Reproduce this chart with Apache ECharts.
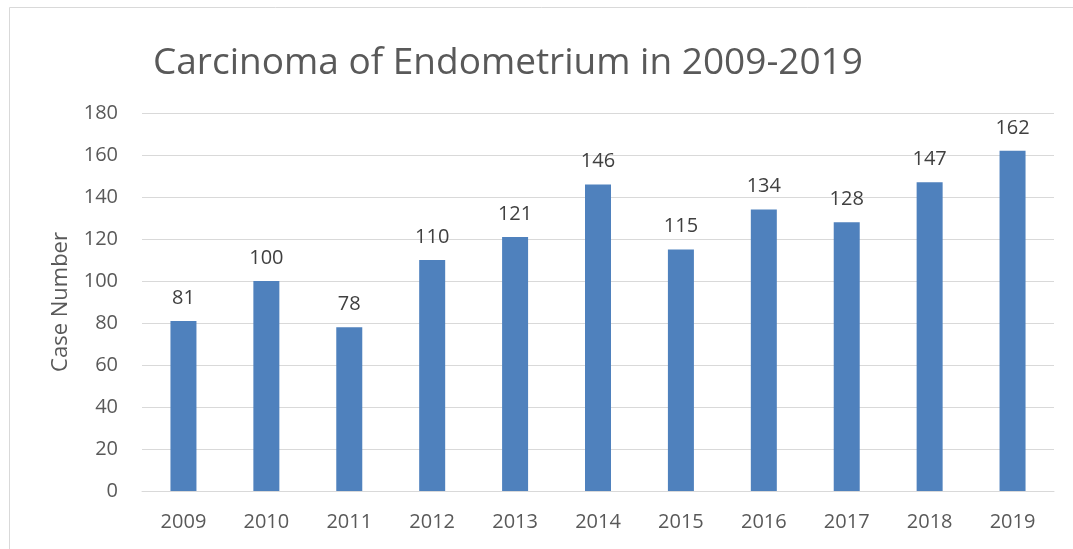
<!DOCTYPE html>
<html><head><meta charset="utf-8">
<script src="https://cdn.jsdelivr.net/npm/echarts@6/dist/echarts.min.js"></script>
<style>html,body{margin:0;padding:0;background:#fff}#c{width:1073px;height:549px}</style>
</head><body><div id="c"></div>
<script>
const categories = ['2009','2010','2011','2012','2013','2014','2015','2016','2017','2018','2019'];
const caseNumbers = [81,100,78,110,121,146,115,134,128,147,162];
const titleText = 'Carcinoma of Endometrium in 2009-2019';
const yAxisName = 'Case Number';

const chart = echarts.init(document.getElementById('c'));
const font = '"Open Sans", "Liberation Sans", sans-serif';
chart.setOption({
  animation: false,
  backgroundColor: '#fff',
  graphic: [{type:'rect', shape:{x:9.5,y:7.5,width:1200,height:700}, style:{fill:'none', stroke:'#d9d9d9', lineWidth:1}}],
  title: {text: titleText, left: 148, top: 40, textStyle:{fontFamily: font, fontSize: 37, fontWeight:'normal', color:'#595959'}},
  grid: {left: 142, right: 19, top: 113, bottom: 58},
  xAxis: {type:'category', data: categories,
    axisLine:{lineStyle:{color:'#d9d9d9', width:1}}, axisTick:{show:false},
    axisLabel:{fontFamily: font, fontSize: 20, color:'#595959', margin: 21}},
  yAxis: {type:'value', min:0, max:180, interval:20,
    name: yAxisName, nameLocation:'middle', nameGap: 70, nameRotate: 90,
    nameTextStyle:{fontFamily: font, fontSize: 22, color:'#595959'},
    axisLine:{show:false}, axisTick:{show:false},
    splitLine:{lineStyle:{color:'#d9d9d9', width:1}},
    axisLabel:{fontFamily: font, fontSize: 20, color:'#595959', margin: 24}},
  series: [{type:'bar', data: caseNumbers, barWidth: 26,
    itemStyle:{color:'#4f81bd'},
    label:{show:true, position:'top', distance: 13, fontFamily: font, fontSize: 20, color:'#404040'}}]
});
</script></body></html>
